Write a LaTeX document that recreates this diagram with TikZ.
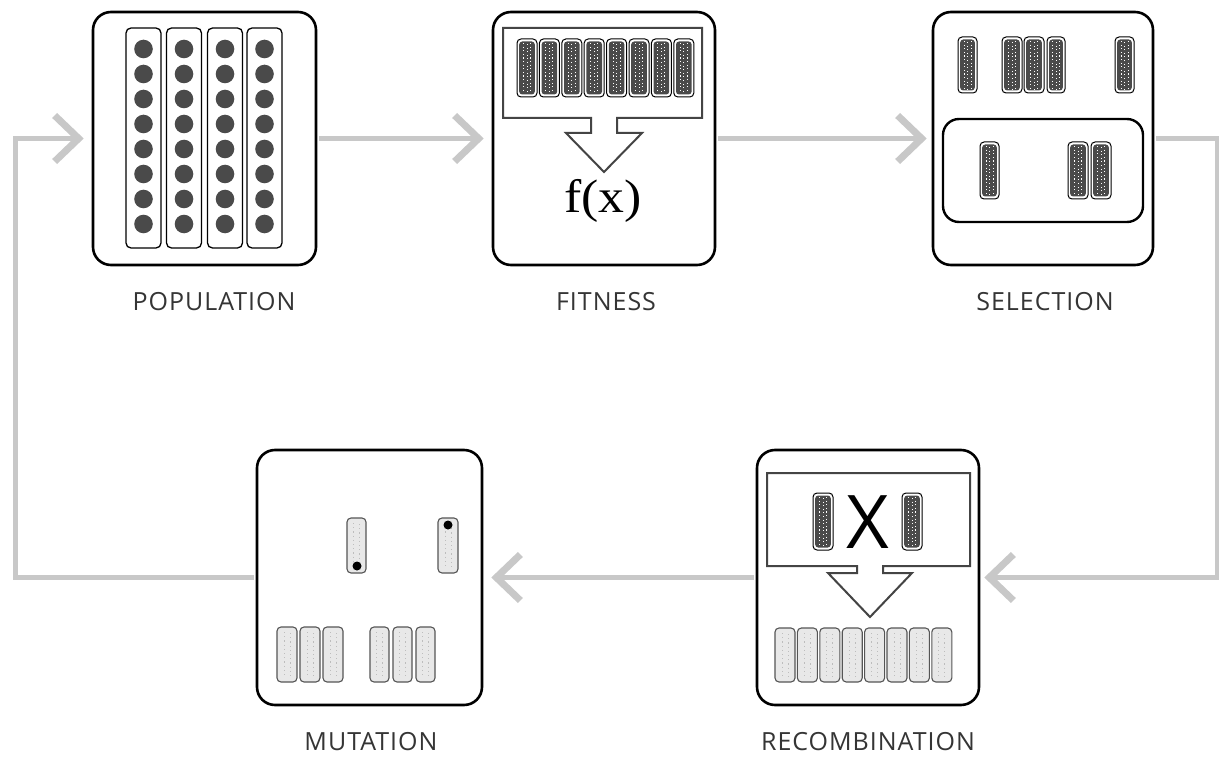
\documentclass[tikz,border=0pt]{standalone}
\usepackage{fontspec}
\setmainfont{Open Sans}
\newfontfamily\serifx{Liberation Serif}
\newfontfamily\labfont[LetterSpace=4]{Open Sans}
\usetikzlibrary{arrows.meta}
\definecolor{flowgray}{HTML}{C8C8C8}
\definecolor{dotgray}{HTML}{4A4A4A}
\definecolor{chrdark}{HTML}{4A4A4A}
\definecolor{chrlight}{HTML}{E8E8E8}
\definecolor{chredge}{HTML}{555555}
\definecolor{chrspeck}{HTML}{BDBDBD}
\definecolor{labelgray}{HTML}{353535}
\definecolor{innergray}{HTML}{444444}
\tikzset{
  stage/.style={draw=black, line width=2.6pt, rounded corners=18pt, fill=white, inner sep=0pt},
  flow/.style={draw=flowgray, line width=5pt, shorten <=2pt,
    -{Straight Barb[length=24pt,width=46pt,line width=7pt]}},
  lab/.style={font=\labfont\fontsize{25}{28}\selectfont, text=labelgray, inner sep=0pt},
  column/.style={draw=black, line width=1.3pt, rounded corners=5pt},
  inner/.style={draw=innergray, line width=2pt, fill=white, line join=miter},
}
\newcommand\chrD[4]{%
  \pgfmathsetmacro\cxm{(#1+#3)/2}%
  \draw[line width=1pt, rounded corners=4pt, fill=white] (#1,#2) rectangle (#3,#4);
  \fill[chrdark, rounded corners=3pt] (#1+2.2,#2+2.5) rectangle (#3-2.2,#4-2.5);
  \draw[white, line width=0.9pt, dash pattern=on 1.2pt off 2.4pt]
    (\cxm-3.5,#2+4) -- (\cxm-3.5,#4-4) (\cxm+3.5,#2+4) -- (\cxm+3.5,#4-4);
  \draw[white, line width=0.7pt, dash pattern=on 1pt off 2.6pt] (\cxm,#2+5) -- (\cxm,#4-4);
}
\newcommand\chrL[4]{%
  \pgfmathsetmacro\cxm{(#1+#3)/2}%
  \draw[draw=chredge, line width=1.1pt, rounded corners=4pt, fill=chrlight] (#1,#2) rectangle (#3,#4);
  \draw[chrspeck, line width=0.9pt, dash pattern=on 1.2pt off 3pt]
    (\cxm-3,#2+5) -- (\cxm-3,#4-5) (\cxm+3,#2+6) -- (\cxm+3,#4-5);
}
\begin{document}
\begin{tikzpicture}[x=1pt,y=-1pt]
\useasboundingbox (0,0) rectangle (1219,757);
\fill[white] (0,0) rectangle (1219,757);

% stage boxes
\node[stage, minimum width=223pt, minimum height=253pt] (pop) at (204.5,138.5) {};
\node[stage, minimum width=222pt, minimum height=253pt] (fit) at (604,138.5) {};
\node[stage, minimum width=220pt, minimum height=253pt] (sel) at (1043,138.5) {};
\node[stage, minimum width=225pt, minimum height=255pt] (mut) at (369.5,577.5) {};
\node[stage, minimum width=222pt, minimum height=255pt] (rec) at (868,577.5) {};

% labels
\node[lab] (lpop) at (214,302) {POPULATION};
\node[lab] (lfit) at (606,302) {FITNESS};
\node[lab] (lsel) at (1045,302) {SELECTION};
\node[lab] (lmut) at (371,742) {MUTATION};
\node[lab] (lrec) at (868,742) {RECOMBINATION};

% connectors
\coordinate (rc) at (1217,0);
\coordinate (lc) at (15,0);
\draw[flow, shorten >=8pt] (pop.east) -- (fit.west);
\draw[flow, shorten >=5pt] (fit.east) -- (sel.west);
\draw[flow, shorten >=4pt] (sel.east) -- (sel.east -| rc) |- (rec.east);
\draw[flow, shorten >=8pt] (rec.west) -- (mut.east);
\draw[flow, shorten >=8pt] (mut.west) -- (mut.west -| lc) |- (pop.west);

% population contents
\foreach \cx in {143.5,184,225,264.5} {
  \draw[column] (\cx-17.5,28) rectangle (\cx+17.5,248);
  \foreach \i in {0,...,7} \fill[dotgray] (\cx,49+25*\i) circle (9.3pt);
}

% fitness contents
\draw[inner] (503,28) -- (702,28) -- (702,118) -- (617,118) -- (617,133) -- (642,133)
  -- (604,172) -- (566,133) -- (591,133) -- (591,118) -- (503,118) -- cycle;
\foreach \i in {0,...,7} {\chrD{517+22.4*\i}{39}{537+22.4*\i}{97}}
\node[font=\serifx\fontsize{47}{50}\selectfont, xscale=1.1, inner sep=0pt] (fx) at (603,201) {f(x)};

% selection contents
\draw[line width=2.4pt, rounded corners=16pt, fill=white] (943,119) rectangle (1143,222);
\chrD{958}{37}{977}{93}
\chrD{1002}{37}{1022}{93}
\chrD{1024}{37}{1044}{93}
\chrD{1047}{37}{1065}{93}
\chrD{1115}{37}{1134}{93}
\chrD{980}{142}{999}{199}
\chrD{1068}{142}{1088}{199}
\chrD{1091}{142}{1111}{199}

% mutation contents
\chrL{347}{518}{366}{573}
\fill[black] (357,566) circle (4.5pt);
\chrL{438}{518}{458}{573}
\fill[black] (448,525) circle (4.5pt);
\chrL{277}{627}{297}{682}
\chrL{300}{627}{320}{682}
\chrL{323}{627}{343}{682}
\chrL{370}{627}{389}{682}
\chrL{393}{627}{412}{682}
\chrL{416}{627}{435}{682}

% recombination contents
\draw[inner] (767,473) -- (970,473) -- (970,566) -- (883,566) -- (883,573) -- (912,573)
  -- (870,617) -- (828,573) -- (857,573) -- (857,566) -- (767,566) -- cycle;
\chrD{813}{493}{833}{550}
\chrD{902}{493}{922}{550}
\node[font=\fontsize{74}{74}\selectfont, inner sep=0pt] (xx) at (868,522) {X};
\foreach \i in {0,...,7} {\chrL{775+22.4*\i}{628}{795+22.4*\i}{682}}
\end{tikzpicture}
\end{document}
